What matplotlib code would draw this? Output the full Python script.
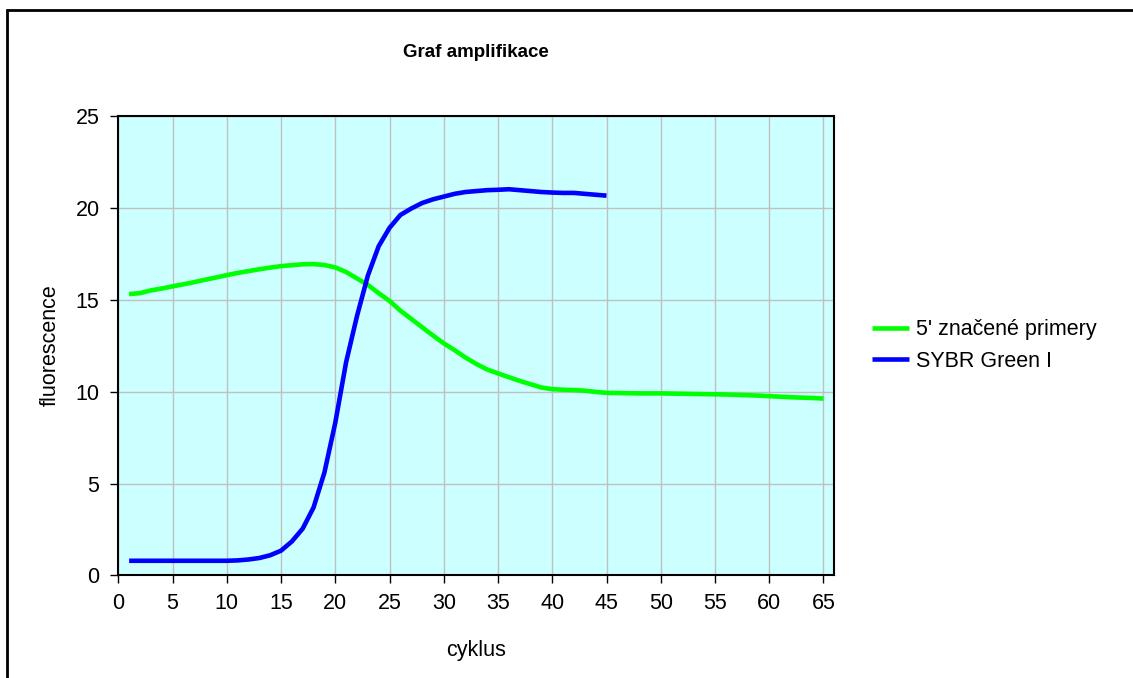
import numpy as np
import matplotlib.pyplot as plt
from matplotlib.patches import Rectangle

plt.rcParams['font.family'] = ['Liberation Sans', 'DejaVu Sans']

# data
cycles_green = list(range(1, 66))
green = [15.3, 15.35, 15.5, 15.6, 15.72, 15.83, 15.95, 16.08, 16.2, 16.33,
         16.45, 16.55, 16.65, 16.74, 16.82, 16.87, 16.92, 16.93, 16.88, 16.75,
         16.5, 16.15, 15.8, 15.35, 14.93, 14.4, 13.95, 13.5, 13.05, 12.62,
         12.25, 11.85, 11.5, 11.2, 10.99, 10.78, 10.58, 10.4, 10.22, 10.13,
         10.1, 10.08, 10.05, 9.98, 9.93, 9.92, 9.91, 9.9, 9.9, 9.9,
         9.89, 9.88, 9.87, 9.86, 9.85, 9.84, 9.82, 9.8, 9.78, 9.75,
         9.72, 9.69, 9.67, 9.65, 9.62]

cycles_blue = list(range(1, 46))
blue = [0.8, 0.8, 0.8, 0.8, 0.8, 0.8, 0.8, 0.8, 0.8, 0.8,
        0.82, 0.87, 0.95, 1.1, 1.35, 1.85, 2.55, 3.7, 5.6, 8.3,
        11.6, 14.1, 16.3, 17.9, 18.9, 19.6, 19.95, 20.25, 20.45, 20.6,
        20.75, 20.85, 20.9, 20.95, 20.97, 21.0, 20.95, 20.9, 20.85, 20.82,
        20.8, 20.8, 20.75, 20.7, 20.65]

labels = ["5' značené primery", "SYBR Green I"]
xticks = list(range(0, 66, 5))
yticks = list(range(0, 26, 5))

fs = 15.5

fig = plt.figure(figsize=(11.33, 6.78), dpi=100)
ax = fig.add_axes([0.1044, 0.1512, 0.632, 0.6782])
ax.set_facecolor('#CCFFFF')

l1, = ax.plot(cycles_green, green, color='#00FF00', linewidth=3.3, solid_capstyle='butt')
l2, = ax.plot(cycles_blue, blue, color='#0000FF', linewidth=3.3, solid_capstyle='butt')

ax.set_xlim(0, 66)
ax.set_ylim(0, 25)
ax.set_xticks(xticks)
ax.set_yticks(yticks)
ax.grid(True, color='#C0C0C0', linewidth=1.0)
ax.set_axisbelow(True)

ax.tick_params(direction='out', length=5.5, width=1, labelsize=fs, color='black')
ax.tick_params(axis='x', pad=7)
ax.tick_params(axis='y', pad=8)
for s in ax.spines.values():
    s.set_linewidth(1.5)
    s.set_color('black')

ax.set_xlabel('cyklus', fontsize=fs)
ax.set_ylabel('fluorescence', fontsize=fs)
ax.xaxis.set_label_coords(0.5, -0.14)
ax.yaxis.set_label_coords(-0.081, 0.5)
fig.text(0.42, 0.9233, 'Graf amplifikace', fontsize=13.5, fontweight='bold', ha='center', va='center')

fig.legend((l1, l2), labels, loc='center left', bbox_to_anchor=(0.7694, 0.4904),
           frameon=False, fontsize=fs, handlelength=1.72, handletextpad=0.33,
           labelspacing=0.49, borderpad=0, borderaxespad=0)

fig.patches.append(Rectangle((7 / 1133, -0.2), 1.5, 0.2 + 1 - 10 / 678,
                             transform=fig.transFigure, fill=False,
                             edgecolor='black', linewidth=2, clip_on=False))

plt.savefig('out.png', dpi=100)
